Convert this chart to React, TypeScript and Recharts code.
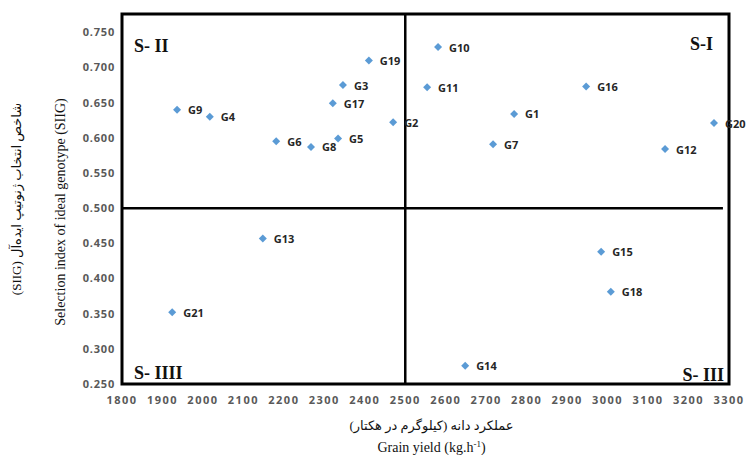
import React from 'react';
import { ScatterChart, Scatter, XAxis, YAxis, ReferenceLine, ReferenceArea } from 'recharts';

const genotypes = ['G1','G2','G3','G4','G5','G6','G7','G8','G9','G10','G11','G12','G13','G14','G15','G16','G17','G18','G19','G20','G21'];
const grainYield = [2769, 2470, 2346, 2017, 2334, 2181, 2717, 2267, 1936, 2581, 2554, 3142, 2148, 2648, 2984, 2947, 2321, 3008, 2410, 3263, 1924];
const siig = [0.634, 0.622, 0.675, 0.630, 0.599, 0.595, 0.591, 0.587, 0.640, 0.729, 0.672, 0.584, 0.457, 0.276, 0.438, 0.673, 0.649, 0.381, 0.710, 0.621, 0.352];

const xTicks = [1800, 1900, 2000, 2100, 2200, 2300, 2400, 2500, 2600, 2700, 2800, 2900, 3000, 3100, 3200, 3300];
const yTicks = [0.25, 0.3, 0.35, 0.4, 0.45, 0.5, 0.55, 0.6, 0.65, 0.7, 0.75];

const data = genotypes.map((name, i) => ({ name, x: grainYield[i], y: siig[i] }));

const SERIF = '"Liberation Serif", "Times New Roman", serif';
const PERSIAN = '"Liberation Serif", "DejaVu Sans", serif';
const TICK_FONT = '"Open Sans", "Liberation Sans", sans-serif';

const Marker = (props: any) => {
  const { cx, cy, payload } = props;
  if (cx == null || cy == null) return null;
  const r = 4;
  return (
    <g>
      <polygon points={`${cx},${cy - r} ${cx + r},${cy} ${cx},${cy + r} ${cx - r},${cy}`} fill="#5B9BD5" />
      <text x={cx + 11} y={cy} dominantBaseline="central" fontFamily={TICK_FONT} fontWeight={700} fontSize={11} fill="#262626">
        {payload.name}
      </text>
    </g>
  );
};

const quadLabel = (text: string, corner: string) => (props: any) => {
  const vb = props.viewBox;
  if (!vb) return null;
  let x = vb.x + 12;
  let y = vb.y + 38;
  let anchor: 'start' | 'end' = 'start';
  if (corner === 'tr') { x = vb.x + vb.width - 16; y = vb.y + 36; anchor = 'end'; }
  if (corner === 'bl') { x = vb.x + 12; y = vb.y + vb.height - 5; }
  if (corner === 'br') { x = vb.x + vb.width - 5; y = vb.y + vb.height - 3; anchor = 'end'; }
  return (
    <text x={x} y={y} textAnchor={anchor} fontFamily={SERIF} fontWeight={700} fontSize={18} fill="#111">
      {text}
    </text>
  );
};

const YTitle = (props: any) => {
  const vb = props.viewBox;
  const cy = vb.y + vb.height / 2;
  return (
    <g>
      <text x={16} y={cy} transform={`rotate(-90, 16, ${cy})`} direction="rtl" style={{ direction: 'rtl', unicodeBidi: 'embed' } as any} textAnchor="middle" dominantBaseline="central" fontFamily={PERSIAN} fontSize={13} fill="#111">
        شاخص انتخاب ژنوتیپ ایده‌آل (SIIG)
      </text>
      <text x={60} y={cy + 13} transform={`rotate(-90, 60, ${cy + 13})`} textAnchor="middle" dominantBaseline="central" fontFamily={SERIF} fontSize={14} fill="#111">
        Selection index of ideal genotype (SIIG)
      </text>
    </g>
  );
};

const XTitle = (props: any) => {
  const vb = props.viewBox;
  const cx = vb.x + vb.width / 2 + 6;
  return (
    <g>
      <text x={cx} y={vb.y + 41} direction="rtl" style={{ direction: 'rtl', unicodeBidi: 'embed' } as any} textAnchor="middle" dominantBaseline="central" fontFamily={PERSIAN} fontSize={13} fill="#111">
        عملکرد دانه (کیلوگرم در هکتار)
      </text>
      <text x={cx} y={vb.y + 68} textAnchor="middle" fontFamily={SERIF} fontSize={14} fill="#111">
        Grain yield (kg.h<tspan dy={-5} fontSize={9}>-1</tspan><tspan dy={5}>)</tspan>
      </text>
    </g>
  );
};

export default function App() {
  return (
    <div style={{ position: 'absolute', left: 0, top: 0, width: 747, height: 455, background: '#fff' }}>
      <ScatterChart width={747} height={455} margin={{ top: 14, right: 18, bottom: 0, left: 0 }}>
        <XAxis
          type="number"
          dataKey="x"
          domain={[1800, 3300]}
          ticks={xTicks}
          interval={0}
          axisLine={false}
          tickLine={false}
          tickSize={0}
          tickMargin={12}
          height={71}
          tick={{ fontFamily: TICK_FONT, fontWeight: 700, fontSize: 11, fill: '#595959', letterSpacing: 1.5 }}
          label={<XTitle />}
        />
        <YAxis
          type="number"
          dataKey="y"
          domain={[0.25, 0.776]}
          ticks={yTicks}
          interval={0}
          axisLine={false}
          tickLine={false}
          tickSize={0}
          tickMargin={7}
          width={122}
          tickFormatter={(v: number) => v.toFixed(3)}
          tick={{ fontFamily: TICK_FONT, fontWeight: 700, fontSize: 11, fill: '#595959', letterSpacing: 0.8 }}
          label={<YTitle />}
        />
        <ReferenceArea x1={1800} x2={2500} y1={0.5} y2={0.776} fill="none" stroke="none" label={quadLabel('S- II', 'tl')} ifOverflow="visible" />
        <ReferenceArea x1={2500} x2={3300} y1={0.5} y2={0.776} fill="none" stroke="none" label={quadLabel('S-I', 'tr')} ifOverflow="visible" />
        <ReferenceArea x1={1800} x2={2500} y1={0.25} y2={0.5} fill="none" stroke="none" label={quadLabel('S- IIII', 'bl')} ifOverflow="visible" />
        <ReferenceArea x1={2500} x2={3300} y1={0.25} y2={0.5} fill="none" stroke="none" label={quadLabel('S- III', 'br')} ifOverflow="visible" />
        <Scatter data={data} shape={<Marker />} isAnimationActive={false} />
        <ReferenceLine segment={[{ x: 1800, y: 0.5 }, { x: 3285, y: 0.5 }]} stroke="#000" strokeWidth={2.5} ifOverflow="visible" />
        <ReferenceLine x={2500} stroke="#000" strokeWidth={2.5} ifOverflow="visible" />
        <ReferenceArea x1={1800} x2={3300} y1={0.25} y2={0.776} fill="none" stroke="#000" strokeWidth={3} ifOverflow="visible" />
      </ScatterChart>
    </div>
  );
}
